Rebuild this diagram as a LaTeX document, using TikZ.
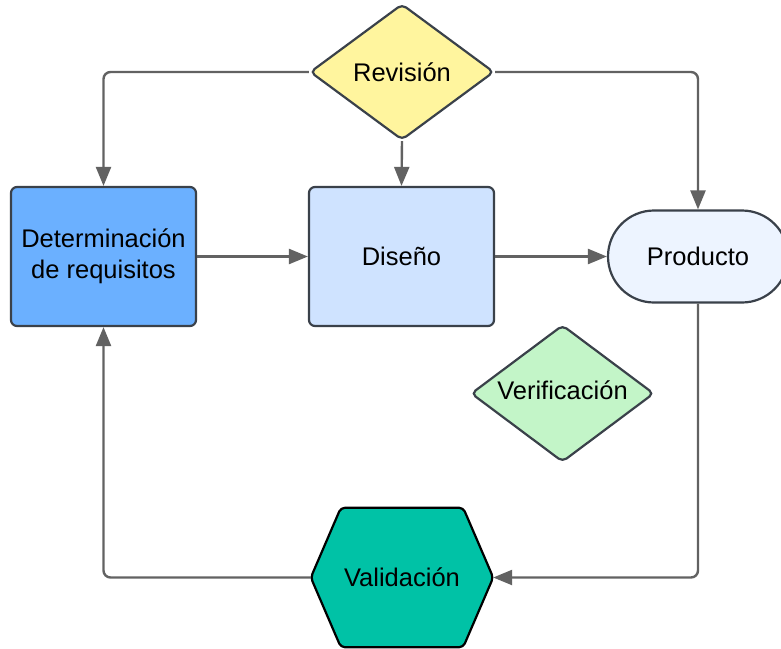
\documentclass[tikz,border=0pt]{standalone}
\usepackage{fontspec}
\setmainfont{Liberation Sans}
\usetikzlibrary{shapes.geometric,arrows.meta}

\definecolor{edge}{HTML}{3A414A}
\definecolor{wire}{HTML}{626262}
\definecolor{fillrev}{HTML}{FFF59E}
\definecolor{filldet}{HTML}{6BB0FF}
\definecolor{filldis}{HTML}{CFE3FF}
\definecolor{fillprod}{HTML}{EDF4FF}
\definecolor{fillver}{HTML}{C3F5C8}
\definecolor{fillval}{HTML}{00C2A6}

\tikzset{
  label font/.style={font=\fontsize{25.5}{31}\selectfont},
  base/.style={draw=edge, line width=2.2pt, inner sep=0pt, align=center,
    label font},
  box/.style={base, rectangle, rounded corners=6pt,
    minimum width=185pt, minimum height=139pt},
  choice/.style={base, diamond, rounded corners=5pt},
  terminal/.style={base, rectangle, rounded corners=46pt,
    minimum width=180pt, minimum height=92pt},
  conn/.style={draw=wire, line width=2.4pt, rounded corners=7pt,
    -{Triangle[length=19pt,width=15pt]}},
}

\begin{document}
\begin{tikzpicture}[x=1pt,y=-1pt]
  \useasboundingbox (0,0) rectangle (781,648);

  % process steps
  \node[box, fill=filldet] (det) at (103.5,256.5) {Determinación\\de requisitos};
  \node[box, fill=filldis] (dis) at (401.5,256.5) {Diseño};
  \node[terminal, fill=fillprod] (prod) at (698,256.5) {Producto};

  % decisions (shape sized independently of its text)
  \node[choice, fill=fillrev, minimum width=184pt, minimum height=136pt]
    (rev) at (402,72) {};
  \node[label font] (revtext) at (rev.center) {Revisión};
  \node[choice, fill=fillver, minimum width=183pt, minimum height=137pt]
    (ver) at (562.5,393.5) {};
  \node[label font] (vertext) at ([yshift=3pt]ver.center) {Verificación};

  % hexagon for the validation step
  \node[inner sep=0pt, minimum width=182pt, minimum height=139pt]
    (val) at (402,577.5) {};
  \filldraw[fill=fillval, draw=black, line width=2.2pt, rounded corners=4pt]
    (val.west) -- ([xshift=30pt]val.north west) -- ([xshift=-30pt]val.north east)
    -- (val.east) -- ([xshift=-30pt]val.south east) -- ([xshift=30pt]val.south west)
    -- cycle;
  \node[label font] (valtext) at (val.center) {Validación};

  % connectors
  \draw[conn] (rev.west) -| (det.north);
  \draw[conn] (rev.south) -- (dis.north);
  \draw[conn] (rev.east) -| (prod.north);
  \draw[conn] (det.east) -- (dis.west);
  \draw[conn] (dis.east) -- (prod.west);
  \draw[conn] (prod.south) |- (val.east);
  \draw[conn] (val.west) -| (det.south);
\end{tikzpicture}
\end{document}
